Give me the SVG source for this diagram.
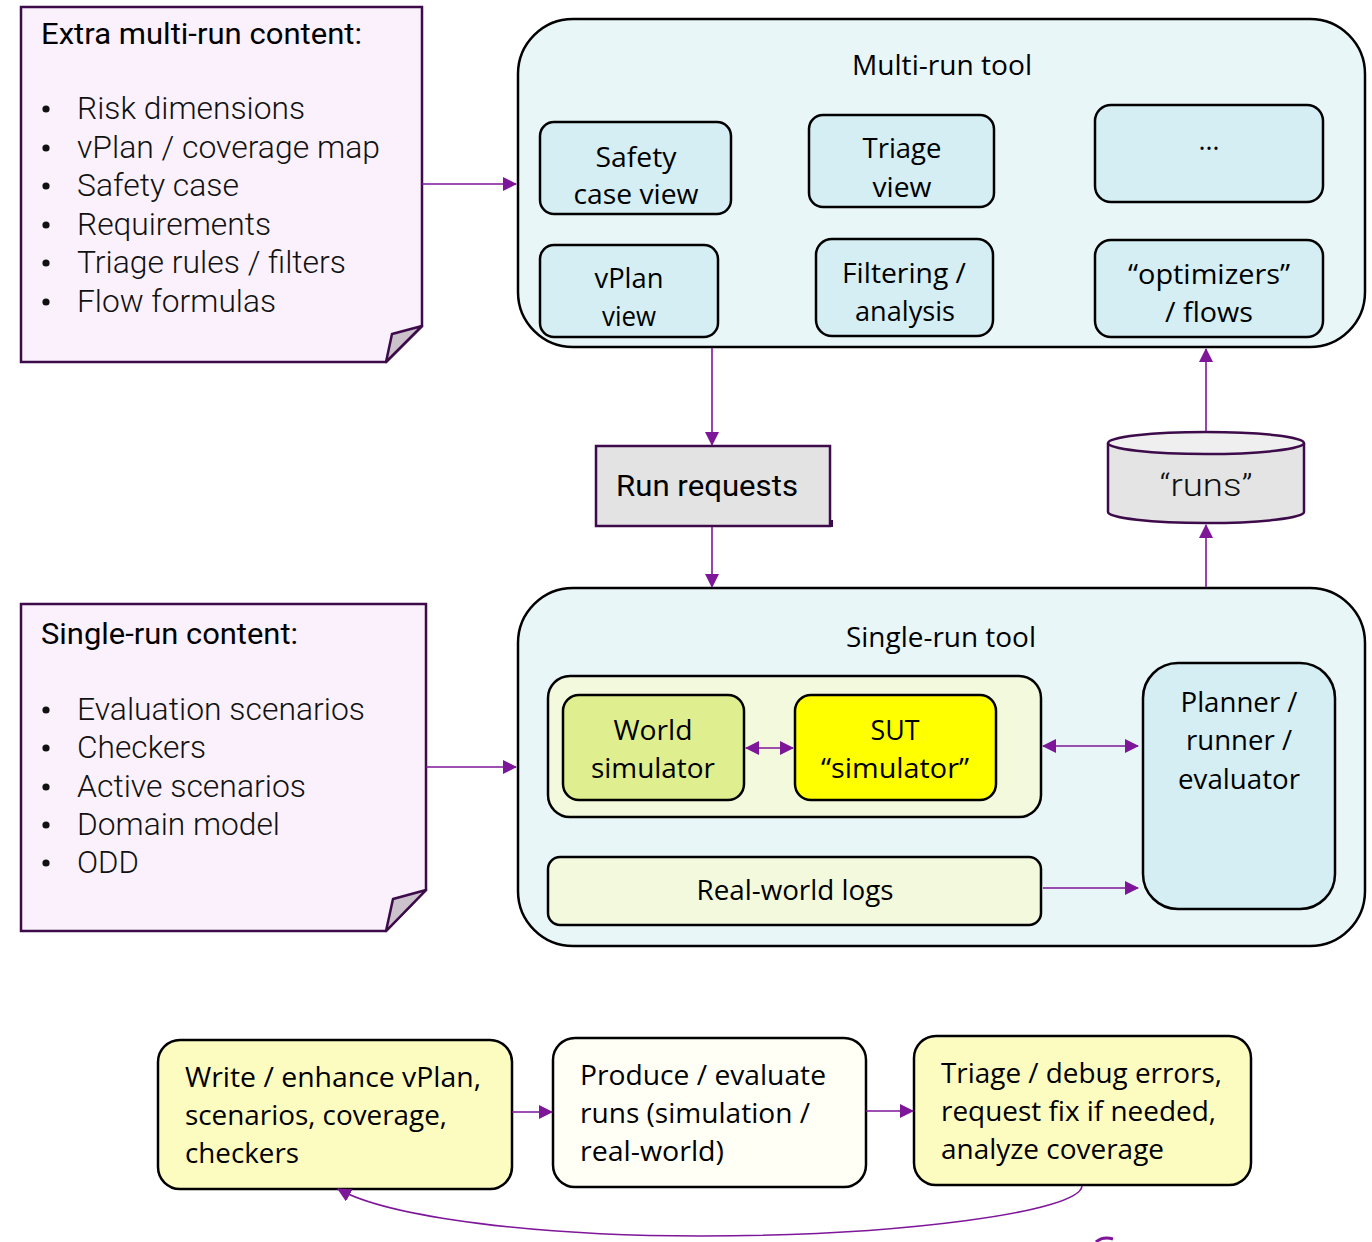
<svg xmlns="http://www.w3.org/2000/svg" width="1372" height="1242" viewBox="0 0 1372 1242">
  <style>
    .note { fill: #faf1fc; stroke: #3d0b4a; stroke-width: 2.5; }
    .fold { fill: #cbc2cc; stroke: #3d0b4a; stroke-width: 2.5; stroke-linejoin: round; }
    .tool { fill: #e8f6f8; stroke: #000; stroke-width: 2.5; }
    .view { fill: #d4eef3; stroke: #000; stroke-width: 2.5; }
    .sim { fill: #f3f9dc; stroke: #000; stroke-width: 2.5; }
    .world { fill: #dfee8f; stroke: #000; stroke-width: 2.5; }
    .sut { fill: #ffff00; stroke: #000; stroke-width: 2.5; }
    .store { fill: #e4e4e4; stroke: #3d0b4a; stroke-width: 2.5; }
    .step { fill: #fdfcc0; stroke: #000; stroke-width: 2.5; }
    .step2 { fill: #fffff6; stroke: #000; stroke-width: 2.5; }
    .lbl { font-family: "Open Sans", "Noto Sans", sans-serif; font-size: 27px; fill: #000; text-anchor: middle; }
    .lbl-l { font-family: "Open Sans", "Noto Sans", sans-serif; font-size: 27px; fill: #000; }
    .hd { font-family: Roboto, "Liberation Sans", sans-serif; font-size: 30px; fill: #000; }
    .li { font-family: Roboto, "Liberation Sans", sans-serif; font-weight: 300; font-size: 31px; fill: #111; }
    .dot { fill: #111; }
    .conn { fill: none; stroke: #7e1699; stroke-width: 1.6; }
  </style>
  <defs>
    <marker id="arr" markerUnits="userSpaceOnUse" markerWidth="14" markerHeight="14" refX="13" refY="7" orient="auto-start-reverse">
      <path d="M0,0 L14,7 L0,14 z" fill="#7e1699"/>
    </marker>
  </defs>

  <!-- content notes -->
  <g id="multi-run-content">
    <path class="note" d="M21,7 H422 V326 L386,362 H21 Z"/>
    <path class="fold" d="M386,362 L392,334 L422,326 Z"/>
    <text class="hd" x="41" y="44" textLength="321" lengthAdjust="spacingAndGlyphs">Extra multi-run content:</text>
    <g class="dot">
      <circle cx="46" cy="109" r="3.6"/>
      <circle cx="46" cy="148" r="3.6"/>
      <circle cx="46" cy="186" r="3.6"/>
      <circle cx="46" cy="225" r="3.6"/>
      <circle cx="46" cy="263" r="3.6"/>
      <circle cx="46" cy="302" r="3.6"/>
    </g>
    <g class="li">
      <text x="77" y="119" textLength="228" lengthAdjust="spacingAndGlyphs">Risk dimensions</text>
      <text x="77" y="158" textLength="303" lengthAdjust="spacingAndGlyphs">vPlan / coverage map</text>
      <text x="77" y="196" textLength="162" lengthAdjust="spacingAndGlyphs">Safety case</text>
      <text x="77" y="235" textLength="194" lengthAdjust="spacingAndGlyphs">Requirements</text>
      <text x="77" y="273" textLength="269" lengthAdjust="spacingAndGlyphs">Triage rules / filters</text>
      <text x="77" y="312" textLength="199" lengthAdjust="spacingAndGlyphs">Flow formulas</text>
    </g>
  </g>

  <g id="single-run-content">
    <path class="note" d="M21,604 H426 V890 L386,931 H21 Z"/>
    <path class="fold" d="M386,931 L393,899 L426,890 Z"/>
    <text class="hd" x="41" y="644" textLength="257" lengthAdjust="spacingAndGlyphs">Single-run content:</text>
    <g class="dot">
      <circle cx="46" cy="710" r="3.6"/>
      <circle cx="46" cy="748" r="3.6"/>
      <circle cx="46" cy="787" r="3.6"/>
      <circle cx="46" cy="825" r="3.6"/>
      <circle cx="46" cy="863" r="3.6"/>
    </g>
    <g class="li">
      <text x="77" y="720" textLength="288" lengthAdjust="spacingAndGlyphs">Evaluation scenarios</text>
      <text x="77" y="758" textLength="129" lengthAdjust="spacingAndGlyphs">Checkers</text>
      <text x="77" y="797" textLength="229" lengthAdjust="spacingAndGlyphs">Active scenarios</text>
      <text x="77" y="835" textLength="203" lengthAdjust="spacingAndGlyphs">Domain model</text>
      <text x="77" y="873" textLength="62" lengthAdjust="spacingAndGlyphs">ODD</text>
    </g>
  </g>

  <!-- multi-run tool -->
  <g id="multi-run-tool">
    <rect class="tool" x="518" y="19" width="847" height="328" rx="55"/>
    <text class="lbl" x="942" y="75" textLength="180" lengthAdjust="spacingAndGlyphs">Multi-run tool</text>
  </g>
  <g id="safety-case-view">
    <rect class="view" x="540" y="122" width="191" height="92" rx="14"/>
    <text class="lbl" x="636" y="167" textLength="81" lengthAdjust="spacingAndGlyphs">Safety</text>
    <text class="lbl" x="636" y="204" textLength="125" lengthAdjust="spacingAndGlyphs">case view</text>
  </g>
  <g id="triage-view">
    <rect class="view" x="809" y="115" width="185" height="92" rx="14"/>
    <text class="lbl" x="902" y="158" textLength="79" lengthAdjust="spacingAndGlyphs">Triage</text>
    <text class="lbl" x="902" y="197" textLength="59" lengthAdjust="spacingAndGlyphs">view</text>
  </g>
  <g id="more-views">
    <rect class="view" x="1095" y="105" width="228" height="97" rx="16"/>
    <text class="lbl" x="1209" y="150">…</text>
  </g>
  <g id="vplan-view">
    <rect class="view" x="540" y="245" width="178" height="92" rx="14"/>
    <text class="lbl" x="629" y="288" textLength="69" lengthAdjust="spacingAndGlyphs">vPlan</text>
    <text class="lbl" x="629" y="326" textLength="54" lengthAdjust="spacingAndGlyphs">view</text>
  </g>
  <g id="filtering-analysis">
    <rect class="view" x="816" y="239" width="177" height="97" rx="16"/>
    <text class="lbl" x="904" y="283" textLength="124" lengthAdjust="spacingAndGlyphs">Filtering /</text>
    <text class="lbl" x="905" y="321" textLength="100" lengthAdjust="spacingAndGlyphs">analysis</text>
  </g>
  <g id="optimizers-flows">
    <rect class="view" x="1095" y="240" width="228" height="97" rx="16"/>
    <text class="lbl" x="1209" y="284" textLength="162" lengthAdjust="spacingAndGlyphs">“optimizers”</text>
    <text class="lbl" x="1209" y="322" textLength="88" lengthAdjust="spacingAndGlyphs">/ flows</text>
  </g>

  <!-- run requests and run store -->
  <g id="run-requests">
    <path d="M826,526 L832,526 L832,520" fill="none" stroke="#3d0b4a" stroke-width="2"/>
    <rect x="596" y="446" width="234" height="80" fill="#e3e3e3" stroke="#3d0b4a" stroke-width="2.5"/>
    <text class="hd" x="616" y="496" font-size="32" textLength="182" lengthAdjust="spacingAndGlyphs">Run requests</text>
  </g>
  <g id="runs-store">
    <path class="store" d="M1108,443 V512 A98,11 0 0 0 1304,512 V443"/>
    <ellipse cx="1206" cy="443" rx="98" ry="11" fill="#efefef" stroke="#3d0b4a" stroke-width="2.5"/>
    <text class="li" x="1206" y="496" text-anchor="middle" font-size="38" textLength="93" lengthAdjust="spacingAndGlyphs">“runs”</text>
  </g>

  <!-- single-run tool -->
  <g id="single-run-tool">
    <rect class="tool" x="518" y="588" width="847" height="358" rx="55"/>
    <text class="lbl" x="941" y="647" textLength="190" lengthAdjust="spacingAndGlyphs">Single-run tool</text>
  </g>
  <g id="simulation">
    <rect class="sim" x="548" y="676" width="493" height="141" rx="22"/>
  </g>
  <g id="world-simulator">
    <rect class="world" x="563" y="695" width="181" height="105" rx="16"/>
    <text class="lbl" x="653" y="740" textLength="79" lengthAdjust="spacingAndGlyphs">World</text>
    <text class="lbl" x="653" y="778" textLength="124" lengthAdjust="spacingAndGlyphs">simulator</text>
  </g>
  <g id="sut-simulator">
    <rect class="sut" x="795" y="695" width="201" height="105" rx="16"/>
    <text class="lbl" x="895" y="740" textLength="49" lengthAdjust="spacingAndGlyphs">SUT</text>
    <text class="lbl" x="895" y="778" textLength="148" lengthAdjust="spacingAndGlyphs">“simulator”</text>
  </g>
  <g id="planner-runner-evaluator">
    <rect class="view" x="1143" y="663" width="192" height="246" rx="35"/>
    <text class="lbl" x="1239" y="712" textLength="117" lengthAdjust="spacingAndGlyphs">Planner /</text>
    <text class="lbl" x="1239" y="750" textLength="106" lengthAdjust="spacingAndGlyphs">runner /</text>
    <text class="lbl" x="1239" y="789" textLength="122" lengthAdjust="spacingAndGlyphs">evaluator</text>
  </g>
  <g id="real-world-logs">
    <rect class="sim" x="548" y="857" width="493" height="68" rx="12"/>
    <text class="lbl" x="795" y="900" textLength="197" lengthAdjust="spacingAndGlyphs">Real-world logs</text>
  </g>

  <!-- workflow steps -->
  <g id="write-step">
    <rect class="step" x="158" y="1040" width="354" height="149" rx="22"/>
    <text class="lbl-l" x="185" y="1087" textLength="296" lengthAdjust="spacingAndGlyphs">Write / enhance vPlan,</text>
    <text class="lbl-l" x="185" y="1125" textLength="262" lengthAdjust="spacingAndGlyphs">scenarios, coverage,</text>
    <text class="lbl-l" x="185" y="1163" textLength="114" lengthAdjust="spacingAndGlyphs">checkers</text>
  </g>
  <g id="produce-step">
    <rect class="step2" x="553" y="1038" width="313" height="149" rx="22"/>
    <text class="lbl-l" x="580" y="1085" textLength="246" lengthAdjust="spacingAndGlyphs">Produce / evaluate</text>
    <text class="lbl-l" x="580" y="1123" textLength="230" lengthAdjust="spacingAndGlyphs">runs (simulation /</text>
    <text class="lbl-l" x="580" y="1161" textLength="144" lengthAdjust="spacingAndGlyphs">real-world)</text>
  </g>
  <g id="triage-step">
    <rect class="step" x="914" y="1036" width="337" height="149" rx="22"/>
    <text class="lbl-l" x="941" y="1083" textLength="281" lengthAdjust="spacingAndGlyphs">Triage / debug errors,</text>
    <text class="lbl-l" x="941" y="1121" textLength="275" lengthAdjust="spacingAndGlyphs">request fix if needed,</text>
    <text class="lbl-l" x="941" y="1159" textLength="223" lengthAdjust="spacingAndGlyphs">analyze coverage</text>
  </g>

  <!-- connectors -->
  <g id="connectors">
    <path class="conn" d="M422,184 H516" marker-end="url(#arr)"/>
    <path class="conn" d="M426,767 H516" marker-end="url(#arr)"/>
    <path class="conn" d="M712,348 V445" marker-end="url(#arr)"/>
    <path class="conn" d="M712,527 V587" marker-end="url(#arr)"/>
    <path class="conn" d="M1206,431 V349" marker-end="url(#arr)"/>
    <path class="conn" d="M1206,587 V525" marker-end="url(#arr)"/>
    <path class="conn" d="M746,748 H793" marker-start="url(#arr)" marker-end="url(#arr)"/>
    <path class="conn" d="M1043,746 H1138" marker-start="url(#arr)" marker-end="url(#arr)"/>
    <path class="conn" d="M1043,888 H1138" marker-end="url(#arr)"/>
    <path class="conn" d="M512,1112 H552" marker-end="url(#arr)"/>
    <path class="conn" d="M866,1111 H913" marker-end="url(#arr)"/>
    <path class="conn" d="M1082,1186 C1080,1212 900,1236 700,1236 C540,1236 390,1218 338,1189" marker-end="url(#arr)"/>
    <path d="M1096,1242 Q1103,1236 1113,1239" fill="none" stroke="#7e1699" stroke-width="3"/>
  </g>
</svg>
